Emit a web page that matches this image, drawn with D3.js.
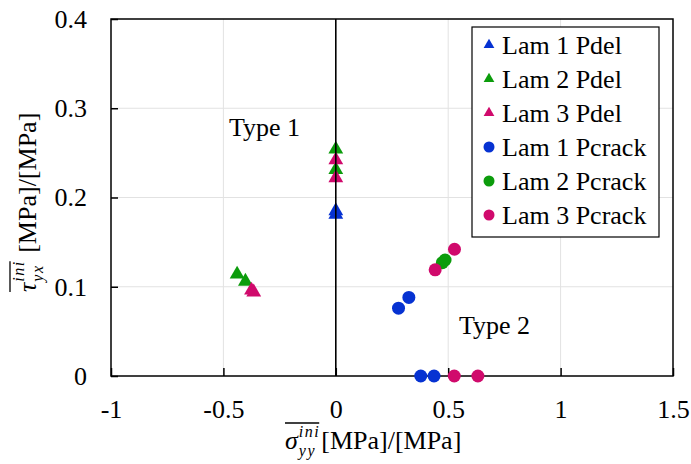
<!DOCTYPE html>
<html>
<head>
<meta charset="utf-8">
<script src="https://cdn.jsdelivr.net/npm/d3@7"></script>
<style>
  body { margin: 0; background: #fff; }
  svg text { font-family: "Liberation Serif", "Times New Roman", serif; }
</style>
</head>
<body>
<div id="chart"></div>
<script>
// series names and colours
var seriesNames = ['Lam 1 Pdel', 'Lam 2 Pdel', 'Lam 3 Pdel', 'Lam 1 Pcrack', 'Lam 2 Pcrack', 'Lam 3 Pcrack'];
var seriesColors = ['#0632d2', '#0c9c0c', '#d00a6c', '#0632d2', '#0c9c0c', '#d00a6c'];
var seriesShapes = ['triangle', 'triangle', 'triangle', 'circle', 'circle', 'circle'];

// sigma_yy (x) and tau_yx (y) values
var lam1PdelX = [0, 0];
var lam1PdelY = [0.181, 0.185];
var lam2PdelX = [-0.439, -0.402, 0, 0];
var lam2PdelY = [0.114, 0.106, 0.254, 0.231];
var lam3PdelX = [-0.375, -0.365, 0, 0];
var lam3PdelY = [0.096, 0.094, 0.242, 0.222];
var lam1PcrackX = [0.279, 0.325, 0.378, 0.437];
var lam1PcrackY = [0.076, 0.088, 0, 0];
var lam2PcrackX = [0.474, 0.486];
var lam2PcrackY = [0.127, 0.13];
var lam3PcrackX = [0.442, 0.528, 0.527, 0.632];
var lam3PcrackY = [0.119, 0.142, 0, 0];

var xTicks = [-1, -0.5, 0, 0.5, 1, 1.5];
var yTicks = [0, 0.1, 0.2, 0.3, 0.4];

var allX = [lam1PdelX, lam2PdelX, lam3PdelX, lam1PcrackX, lam2PcrackX, lam3PcrackX];
var allY = [lam1PdelY, lam2PdelY, lam3PdelY, lam1PcrackY, lam2PcrackY, lam3PcrackY];

function init() {
    var width = 691, height = 464;
    var margin = {left: 111, top: 19, right: 18, bottom: 88};
    var fontSize = 26;

    var svg = d3.select('#chart').append('svg')
        .attr('width', width)
        .attr('height', height);

    var xScale = d3.scaleLinear().domain([-1, 1.5]).range([margin.left, width - margin.right]);
    var yScale = d3.scaleLinear().domain([0, 0.4]).range([height - margin.bottom, margin.top]);

    var x0 = xScale.range()[0], x1 = xScale.range()[1];
    var y0 = yScale.range()[0], y1 = yScale.range()[1];

    // light grid
    svg.append('g').selectAll('line')
        .data(yTicks.filter(d => d > 0 && d < 0.4))
        .join('line')
        .attr('x1', x0).attr('x2', x1)
        .attr('y1', d => yScale(d)).attr('y2', d => yScale(d))
        .attr('stroke', '#e2e2e2').attr('stroke-width', 1);
    svg.append('g').selectAll('line')
        .data(xTicks.filter(d => d > -1 && d < 1.5 && d !== 0))
        .join('line')
        .attr('x1', d => xScale(d)).attr('x2', d => xScale(d))
        .attr('y1', y0).attr('y2', y1)
        .attr('stroke', '#e2e2e2').attr('stroke-width', 1);

    // axes (plain hyphen for negatives, like the original)
    var fmt = d => String(d);
    var xAxis = svg.append('g')
        .attr('transform', `translate(0, ${y0})`)
        .call(d3.axisBottom(xScale).tickValues(xTicks).tickFormat(fmt).tickSizeInner(-8).tickSizeOuter(0).tickPadding(24));
    var yAxis = svg.append('g')
        .attr('transform', `translate(${x0}, 0)`)
        .call(d3.axisLeft(yScale).tickValues(yTicks).tickFormat(fmt).tickSizeInner(-7).tickSizeOuter(0).tickPadding(24));
    [xAxis, yAxis].forEach(function(a) {
        a.attr('font-family', null);
        a.select('.domain').remove();
        a.selectAll('line').attr('stroke', '#000').attr('stroke-width', 1.5);
        a.selectAll('text').attr('fill', '#000')
            .style('font-size', fontSize + 'px');
    });

    // frame
    svg.append('rect')
        .attr('x', x0).attr('y', y1)
        .attr('width', x1 - x0).attr('height', y0 - y1)
        .attr('fill', 'none').attr('stroke', '#000').attr('stroke-width', 1.5);

    // points
    allX.forEach(function(xs, i) {
        var pts = xs.map((v, j) => ({x: v, y: allY[i][j]}));
        var g = svg.append('g').attr('fill', seriesColors[i]);
        if (seriesShapes[i] === 'triangle') {
            g.selectAll('path').data(pts).join('path')
                .attr('transform', d => `translate(${xScale(d.x)}, ${yScale(d.y)})`)
                .attr('d', d3.symbol(d3.symbolTriangle, 95));
        } else {
            g.selectAll('circle').data(pts).join('circle')
                .attr('cx', d => xScale(d.x))
                .attr('cy', d => yScale(d.y))
                .attr('r', 6.5);
        }
    });

    // zero line
    svg.append('line')
        .attr('x1', xScale(0)).attr('x2', xScale(0))
        .attr('y1', y0).attr('y2', y1)
        .attr('stroke', '#000').attr('stroke-width', 1.6);

    // region labels
    svg.append('text').attr('x', 229).attr('y', 136)
        .style('font-size', fontSize + 'px').text('Type 1');
    svg.append('text').attr('x', 459).attr('y', 334)
        .style('font-size', fontSize + 'px').text('Type 2');

    // legend
    var legend = svg.append('g');
    legend.append('rect')
        .attr('x', 472).attr('y', 27).attr('width', 187).attr('height', 210)
        .attr('fill', '#fff').attr('stroke', '#000').attr('stroke-width', 1.2);
    seriesNames.forEach(function(name, i) {
        var cy = 45 + i * 34;
        if (seriesShapes[i] === 'triangle') {
            legend.append('path')
                .attr('transform', `translate(489, ${cy})`)
                .attr('d', d3.symbol(d3.symbolTriangle, 50))
                .attr('fill', seriesColors[i]);
        } else {
            legend.append('circle')
                .attr('cx', 489).attr('cy', cy).attr('r', 5.5)
                .attr('fill', seriesColors[i]);
        }
        legend.append('text')
            .attr('x', 502).attr('y', cy + 9)
            .style('font-size', fontSize + 'px')
            .text(name);
    });

    // axis titles
    mathLabel(svg.append('g').attr('transform', 'translate(285, 449)'),
        'σ', 'yy', 'ini', '[MPa]/[MPa]', fontSize);
    mathLabel(svg.append('g').attr('transform', 'translate(36, 292) rotate(-90)'),
        'τ', 'yx', 'ini', '\u00a0[MPa]/[MPa]', fontSize);
}

// symbol with stacked sub- and superscript and an overline, then plain text,
// all in one text element
function mathLabel(g, sym, sub, sup, rest, size) {
    var small = 16;
    var text = g.append('text').style('font-size', size + 'px');
    var t1 = text.append('tspan').attr('x', 0).attr('y', 0)
        .style('font-style', 'italic').text(sym);
    var w1 = t1.node().getComputedTextLength();
    var tSup = text.append('tspan').attr('x', w1 + 1).attr('y', -12)
        .style('font-style', 'italic').style('font-size', small + 'px')
        .style('letter-spacing', '1.5px').text(sup);
    var wSup = tSup.node().getComputedTextLength();
    var tSub = text.append('tspan').attr('x', w1 + 1).attr('y', 7)
        .style('font-style', 'italic').style('font-size', small + 'px')
        .style('letter-spacing', '1.5px').text(sub);
    var ws = Math.max(wSup, tSub.node().getComputedTextLength());
    text.append('tspan').attr('x', w1 + ws + 2).attr('y', 0).text(rest);
    g.append('line')
        .attr('x1', 0).attr('x2', w1 + ws)
        .attr('y1', -26).attr('y2', -26)
        .attr('stroke', '#000').attr('stroke-width', 1.3);
}

window.onload = init;
</script>
</body>
</html>
